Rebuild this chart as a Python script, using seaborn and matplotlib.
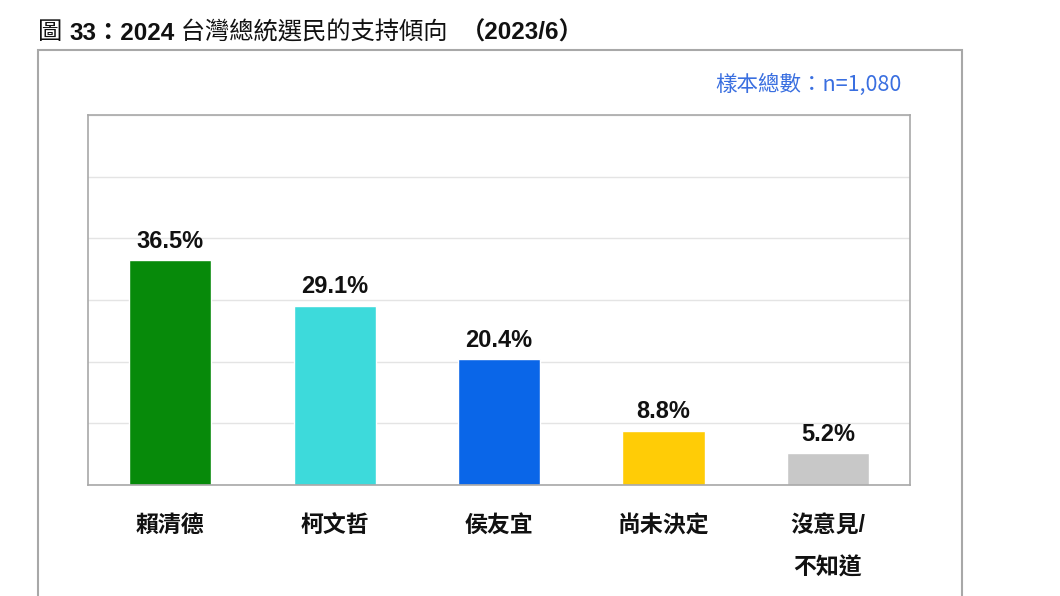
import matplotlib
matplotlib.use("Agg")
import matplotlib.pyplot as plt
import matplotlib.patches as patches
import seaborn as sns
import pandas as pd

# data
categories = ["賴清德", "柯文哲", "侯友宜", "尚未決定", "沒意見/\n不知道"]
values = [36.5, 29.1, 20.4, 8.8, 5.2]
bar_colors = ["#078a0a", "#3ddadb", "#0a66e8", "#ffcc06", "#c8c8c8"]
title_parts = [("圖 ", "normal"), ("33：2024", "bold"),
               (" 台灣總統選民的支持傾向  ", "normal"), ("（2023/6）", "bold")]
sample_note = "樣本總數：n=1,080"

sns.set_theme(style="white")
FAM = ["Liberation Sans", "Noto Sans CJK TC", "DejaVu Sans"]
plt.rcParams["font.family"] = FAM

W, H = 1060, 596
fig = plt.figure(figsize=(W / 100, H / 100), dpi=100)

# plot area in pixel coords
x0, x1, ytop, ybot = 88, 910, 115, 485
ax = fig.add_axes([x0 / W, 1 - ybot / H, (x1 - x0) / W, (ybot - ytop) / H])

df = pd.DataFrame({"cat": categories, "val": values})
sns.barplot(data=df, x="cat", y="val", hue="cat", palette=bar_colors,
            width=0.5, legend=False, ax=ax, saturation=1)

ax.set_ylim(0, 60)
ax.set_xlim(-0.5, len(categories) - 0.5)
ax.set_yticks(range(0, 61, 10))
ax.set_yticklabels([])
ax.tick_params(axis="y", length=0)
ax.yaxis.grid(True, color="#e4e4e4", lw=1)
ax.set_axisbelow(True)
ax.set_xlabel("")
ax.set_ylabel("")

for sp in ax.spines.values():
    sp.set_color("#a8a8a8")
    sp.set_linewidth(1.2)

# category labels
ax.tick_params(axis="x", which="major", length=0, pad=21)
ax.set_xticks(range(len(categories)))
ax.set_xticklabels(categories, fontsize=16.5, fontweight="bold", color="#111111")
for lab in ax.get_xticklabels():
    lab.set_linespacing(2.05)
ax.set_xticks([i + 0.5 for i in range(len(categories) - 1)], minor=True)
ax.tick_params(axis="x", which="minor", direction="in", length=5,
               color="#b0b0b0", width=1)

# value labels
for i, v in enumerate(values):
    ax.text(i, v + 1.2, f"{v:.1f}%", ha="center", va="bottom",
            fontsize=17, fontweight="bold", color="#111111", family=FAM)

# outer frame
frame = patches.Rectangle((38 / W, -0.1), (962 - 38) / W, (H - 50) / H + 0.1,
                          transform=fig.transFigure, fill=False,
                          edgecolor="#a8a8a8", lw=1.5, clip_on=False)
fig.add_artist(frame)

# sample size note
fig.text(902 / W, 1 - 85 / H, sample_note, ha="right", va="center",
         fontsize=15.5, fontweight="medium", color="#3a6fe0",
         family=["Noto Sans CJK TC", "DejaVu Sans"])

# title, mixed weight
fig.canvas.draw()
renderer = fig.canvas.get_renderer()
xpos = 38 / W
for txt, wt in title_parts:
    t = fig.text(xpos, 1 - 33 / H, txt, ha="left", va="center",
                 fontsize=17.5, fontweight=wt, color="#111111", family=FAM)
    bb = t.get_window_extent(renderer=renderer)
    xpos += bb.width / W

fig.savefig("out.png", dpi=100)
